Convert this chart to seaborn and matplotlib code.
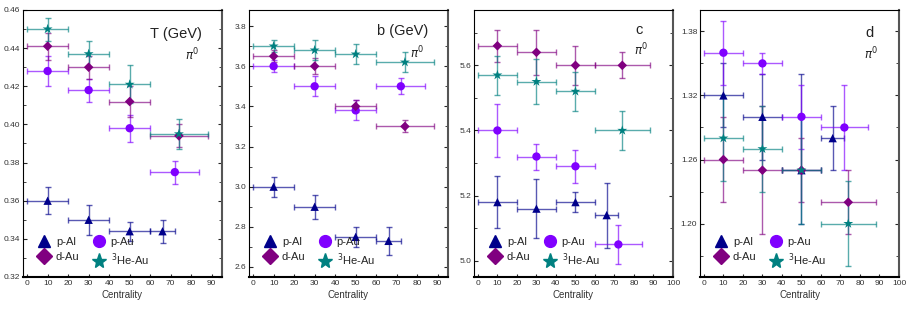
import numpy as np
import pandas as pd
import seaborn as sns
import matplotlib.pyplot as plt
from matplotlib.ticker import MultipleLocator
from matplotlib.lines import Line2D

# centrality bins for each collision system
cent_pAl = [10, 30, 50, 66]
cent_pAl_err = [10, 10, 10, 6]
cent_pAu = [10, 30, 50, 72]
cent_pAu_err = [10, 10, 10, 12]
cent_dAu = [10, 30, 50, 74]
cent_dAu_err = [10, 10, 10, 14]
cent_HeAu = [10, 30, 50, 74]
cent_HeAu_err = [10, 10, 10, 14]

# T (GeV)
T_pAl = [0.360, 0.350, 0.344, 0.344]
T_pAl_err = [0.007, 0.008, 0.005, 0.006]
T_pAu = [0.428, 0.418, 0.398, 0.375]
T_pAu_err = [0.008, 0.006, 0.007, 0.006]
T_dAu = [0.441, 0.430, 0.412, 0.394]
T_dAu_err = [0.007, 0.006, 0.008, 0.006]
T_HeAu = [0.450, 0.437, 0.421, 0.395]
T_HeAu_err = [0.006, 0.007, 0.010, 0.008]

# b (GeV)
b_pAl = [3.00, 2.90, 2.75, 2.73]
b_pAl_err = [0.05, 0.06, 0.05, 0.07]
b_pAu = [3.60, 3.50, 3.38, 3.50]
b_pAu_err = [0.03, 0.05, 0.05, 0.04]
b_dAu = [3.65, 3.60, 3.40, 3.30]
b_dAu_err = [0.03, 0.04, 0.03, 0.03]
b_HeAu = [3.70, 3.68, 3.66, 3.62]
b_HeAu_err = [0.03, 0.05, 0.05, 0.05]

# c
c_pAl = [5.18, 5.16, 5.18, 5.14]
c_pAl_err = [0.08, 0.09, 0.03, 0.10]
c_pAu = [5.40, 5.32, 5.29, 5.05]
c_pAu_err = [0.08, 0.04, 0.05, 0.06]
c_dAu = [5.66, 5.64, 5.60, 5.60]
c_dAu_err = [0.05, 0.07, 0.06, 0.04]
c_HeAu = [5.57, 5.55, 5.52, 5.40]
c_HeAu_err = [0.06, 0.07, 0.06, 0.06]

# d
d_pAl = [1.32, 1.30, 1.25, 1.28]
d_pAl_err = [[0.03, 0.04, 0.05, 0.03], [0.03, 0.04, 0.09, 0.03]]
d_pAu = [1.36, 1.35, 1.30, 1.29]
d_pAu_err = [0.03, 0.01, 0.03, 0.04]
d_dAu = [1.26, 1.25, 1.25, 1.22]
d_dAu_err = [0.04, 0.06, 0.03, 0.03]
d_HeAu = [1.28, 1.27, 1.25, 1.20]
d_HeAu_err = [0.04, 0.04, 0.05, 0.04]

systems = ["p-Al", "p-Au", "d-Au", "3He-Au"]
labels = {"p-Al": "p-Al", "p-Au": "p-Au", "d-Au": "d-Au", "3He-Au": r"$^{3}$He-Au"}
colors = {"p-Al": "#00008b", "p-Au": "#8000ff", "d-Au": "#800080", "3He-Au": "#008080"}
markers = {"p-Al": "^", "p-Au": "o", "d-Au": "D", "3He-Au": "*"}
sizes = {"p-Al": 36, "p-Au": 36, "d-Au": 24, "3He-Au": 56}

cents = {"p-Al": (cent_pAl, cent_pAl_err), "p-Au": (cent_pAu, cent_pAu_err),
         "d-Au": (cent_dAu, cent_dAu_err), "3He-Au": (cent_HeAu, cent_HeAu_err)}

panels = [
    dict(name="T (GeV)", vals={"p-Al": (T_pAl, T_pAl_err), "p-Au": (T_pAu, T_pAu_err),
                               "d-Au": (T_dAu, T_dAu_err), "3He-Au": (T_HeAu, T_HeAu_err)},
         ylim=(0.32, 0.46), major=0.02, minor=0.01, fmt="%.2f", xlim=(-2, 95), xmax=90,
         title_xy=(0.77, 0.91), pi_xy=(0.85, 0.83)),
    dict(name="b (GeV)", vals={"p-Al": (b_pAl, b_pAl_err), "p-Au": (b_pAu, b_pAu_err),
                               "d-Au": (b_dAu, b_dAu_err), "3He-Au": (b_HeAu, b_HeAu_err)},
         ylim=(2.55, 3.88), major=0.2, minor=0.1, fmt="%.1f", xlim=(-2, 95), xmax=90,
         title_xy=(0.77, 0.92), pi_xy=(0.845, 0.84)),
    dict(name="c", vals={"p-Al": (c_pAl, c_pAl_err), "p-Au": (c_pAu, c_pAu_err),
                         "d-Au": (c_dAu, c_dAu_err), "3He-Au": (c_HeAu, c_HeAu_err)},
         ylim=(4.95, 5.77), major=0.2, minor=0.1, fmt="%.1f", xlim=(-2, 100), xmax=100,
         title_xy=(0.83, 0.925), pi_xy=(0.84, 0.85)),
    dict(name="d", vals={"p-Al": (d_pAl, d_pAl_err), "p-Au": (d_pAu, d_pAu_err),
                         "d-Au": (d_dAu, d_dAu_err), "3He-Au": (d_HeAu, d_HeAu_err)},
         ylim=(1.15, 1.40), major=0.06, minor=0.03, fmt="%.2f", xlim=(-2, 100), xmax=100,
         title_xy=(0.853, 0.915), pi_xy=(0.86, 0.835), yticks=[1.20, 1.26, 1.32, 1.38]),
]

sns.set_theme(style="white")
plt.rcParams["font.family"] = ["Liberation Sans", "DejaVu Sans"]
plt.rcParams["mathtext.fontset"] = "dejavusans"

fig = plt.figure(figsize=(9.12, 3.09), dpi=100)
lefts = [23, 249, 474, 700]

for left, p in zip(lefts, panels):
    ax = fig.add_axes([left / 912, 32 / 309, 199 / 912, 267 / 309])

    rows = []
    for s in systems:
        x, xe = cents[s]
        y, ye = p["vals"][s]
        ax.errorbar(x, y, xerr=xe, yerr=ye, fmt="none", ecolor=colors[s],
                    elinewidth=1.0, capsize=2, capthick=1.0, alpha=0.65, zorder=2)
        for xi, yi in zip(x, y):
            rows.append({"cent": xi, "val": yi, "system": s})
    df = pd.DataFrame(rows)
    sns.scatterplot(data=df, x="cent", y="val", hue="system", style="system", size="system",
                    hue_order=systems, style_order=systems, size_order=systems,
                    palette=colors, markers=markers, sizes=sizes, linewidth=0,
                    legend=False, ax=ax, zorder=3)

    ax.set_xlim(*p["xlim"])
    ax.set_ylim(*p["ylim"])
    ax.set_xticks(np.arange(0, p["xmax"] + 1, 10))
    if "yticks" in p:
        ax.set_yticks(p["yticks"])
    else:
        ax.yaxis.set_major_locator(MultipleLocator(p["major"]))
    ax.yaxis.set_minor_locator(MultipleLocator(p["minor"]))
    ax.yaxis.set_major_formatter(plt.FormatStrFormatter(p["fmt"]))
    ax.tick_params(axis="y", which="both", direction="in", left=True, right=True,
                   labelsize=6, labelcolor="#333333", pad=2)
    ax.tick_params(axis="y", which="major", length=3, width=0.8)
    ax.tick_params(axis="y", which="minor", length=2, width=0.6)
    ax.tick_params(axis="x", direction="in", bottom=True, length=2, width=0.8,
                   labelsize=6, labelcolor="#333333", pad=2)

    ax.set_xlabel("Centrality", fontsize=7, color="#333333", labelpad=2)
    ax.set_ylabel("")

    for side in ["left", "top"]:
        ax.spines[side].set_color("black")
        ax.spines[side].set_linewidth(0.8)
    ax.spines["bottom"].set_color("black")
    ax.spines["bottom"].set_linewidth(1.5)
    ax.spines["right"].set_color("#555555")
    ax.spines["right"].set_linewidth(1.5)

    ax.text(*p["title_xy"], p["name"], transform=ax.transAxes, fontsize=10.5,
            ha="center", va="center", color="#222222")
    ax.text(*p["pi_xy"], r"$\pi^0$", transform=ax.transAxes, fontsize=8.5,
            ha="center", va="center", color="#222222")

    order = ["p-Al", "d-Au", "p-Au", "3He-Au"]
    handles = [Line2D([], [], linestyle="none", marker=markers[s], color=colors[s],
                      markersize=11 if s == "3He-Au" else 8.5) for s in order]
    ax.legend(handles, [labels[s] for s in order], ncol=2, loc="lower left",
              bbox_to_anchor=(0.02, 0.0), frameon=False, fontsize=8,
              handletextpad=0.3, columnspacing=1.0, labelspacing=0.4,
              handlelength=1.5, borderpad=0.3)

fig.savefig("out.png", dpi=100)
